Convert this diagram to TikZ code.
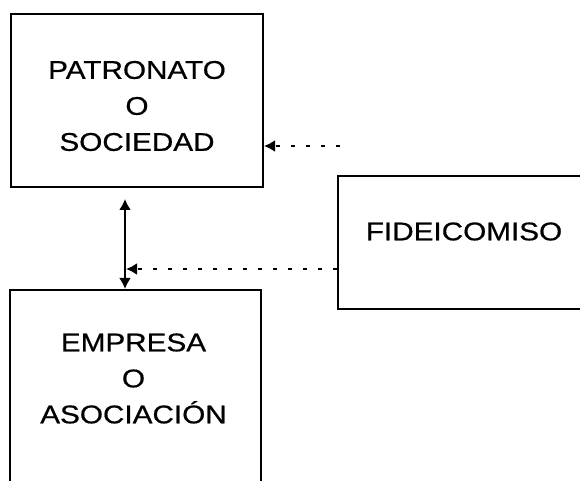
\documentclass[tikz,border=0pt]{standalone}
\usepackage{fontspec}
\newfontfamily\rotulo[FakeStretch=1.16,FakeBold=0.6]{Liberation Sans}
\usetikzlibrary{arrows.meta}

\begin{document}
\begin{tikzpicture}[x=0.5pt, y=-0.5pt,
	caja/.style={draw, line width=1pt, rectangle, anchor=north west, inner sep=0pt},
	texto/.style={align=center, inner sep=0pt, font=\rotulo\fontsize{12.8}{18}\selectfont},
	flecha/.style={line width=1pt, {Latex[length=5.5pt,width=6pt]}-{Latex[length=5.5pt,width=6pt]}},
	punteada/.style={line width=1.1pt, dash pattern=on 2pt off 5.5pt, -{Latex[length=5.5pt,width=6pt]}}]
	\clip (0,0) rectangle (580,481);

	\node[caja, minimum width=126pt, minimum height=86.5pt] (patronato) at (10,13) {};
	\node[caja, minimum width=125.5pt, minimum height=125pt] (empresa) at (9,289) {};
	\node[caja, minimum width=127pt, minimum height=66.5pt] (fideicomiso) at (337,175) {};

	\node[texto] (tpatronato) at (137,106) {PATRONATO\\O\\SOCIEDAD};
	\node[texto] (tempresa) at (133.5,378.5) {EMPRESA\\O\\ASOCIACIÓN};
	\node[texto] (tfideicomiso) at (464,231.5) {FIDEICOMISO};

	\coordinate (eje) at (125,0);
	\coordinate (libre) at (340,146);
	\coordinate (enlace) at (125,269);

	\draw[flecha, shorten <=5.5pt] (patronato.south -| eje) -- (empresa.north -| eje);
	\draw[punteada] (libre) -- (libre -| patronato.east);
	\draw[punteada] (fideicomiso.west |- enlace) -- ([xshift=0.5pt]enlace);
\end{tikzpicture}
\end{document}
